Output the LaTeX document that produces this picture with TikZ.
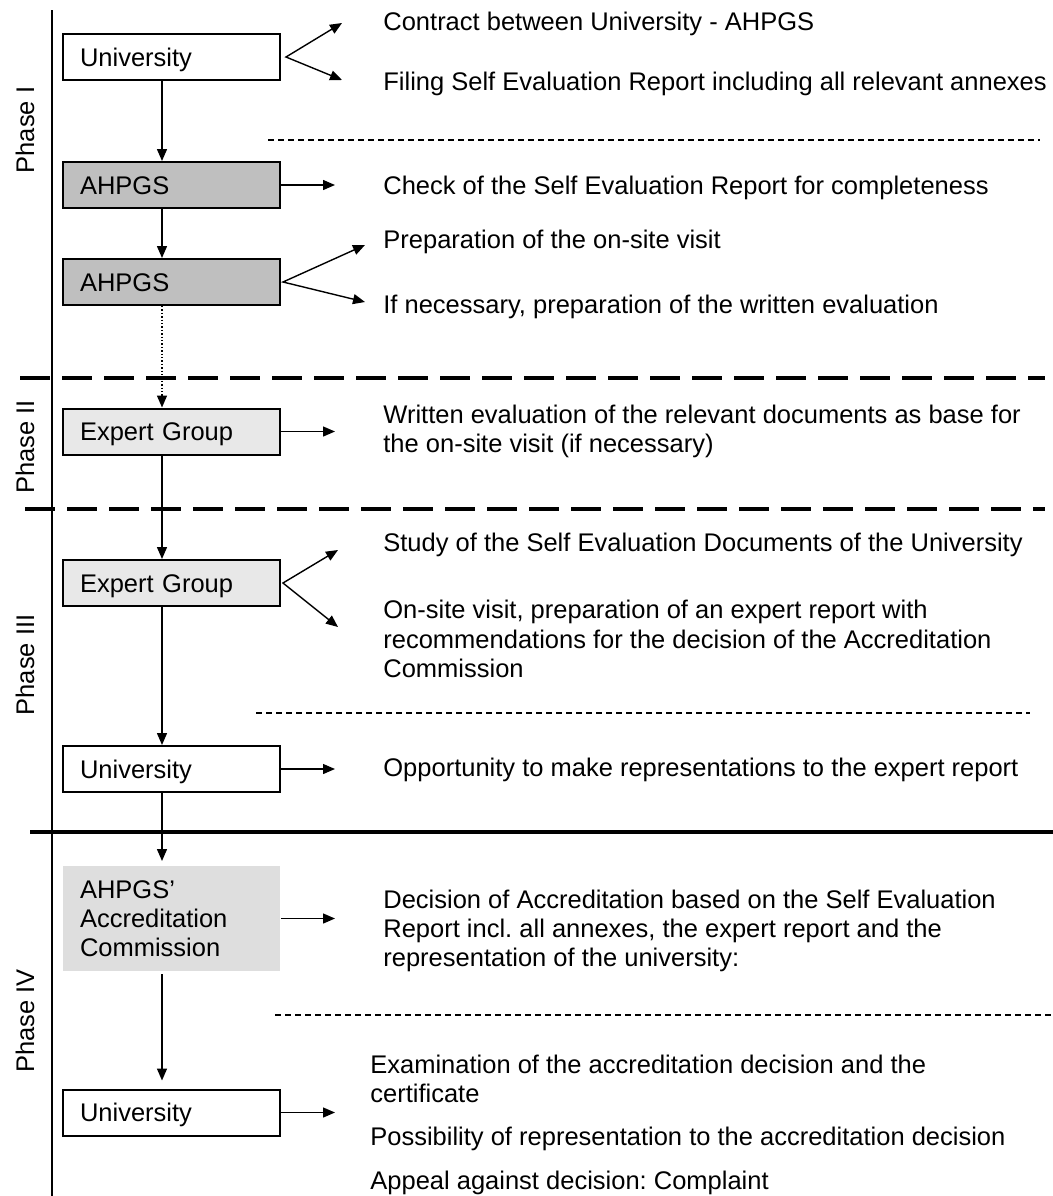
\documentclass[tikz,border=0pt]{standalone}
\usepackage{fontspec}
\setmainfont{Liberation Sans}
\usetikzlibrary{arrows.meta}
\frenchspacing
\begin{document}
\begin{tikzpicture}[
x=0.5pt, y=-0.5pt,
font=\fontsize{12.75pt}{14.6pt}\selectfont,
box/.style={rectangle, draw=black, line width=1pt, minimum width=108.5pt, minimum height=23pt, text width=91.5pt, inner xsep=8.5pt, inner ysep=0pt, align=left},
oneline/.style={box, text height=9.1pt, text depth=0pt},
university/.style={oneline, fill=white},
agency/.style={oneline, fill=black!25},
expert/.style={oneline, fill=black!9},
commission/.style={box, draw=none, fill=black!13, minimum height=52.5pt},
task/.style={anchor=west, inner sep=0pt, align=left, yshift=-1pt},
phase/.style={rotate=90, inner sep=0pt},
flow/.style={line width=0.7pt, -{Triangle[length=6pt, width=5pt]}},
fork/.style={line width=0.7pt, {Triangle[length=6pt, width=5pt]}-{Triangle[length=6pt, width=5pt]}},
sep/.style={line width=2pt, dash pattern=on 15pt off 6pt},
subsep/.style={line width=0.6pt, dash pattern=on 3pt off 2pt},
]
\useasboundingbox (0,0) rectangle (1053,1196);
\draw[line width=1pt] (52,10) -- (52,1196);
\draw[sep] (20,378) -- (1045,378);
\draw[sep] (25,509) -- (1045,509);
\draw[line width=1.6pt] (30,832) -- (1053,832);
\draw[subsep] (268,140) -- (1040,140);
\draw[subsep] (256,713) -- (1030,713);
\draw[subsep] (275,1015) -- (1053,1015);

\node[phase] (p1) at (25,130) {Phase I};
\node[phase] (p2) at (25,447) {Phase II};
\node[phase] (p3) at (25,665) {Phase III};
\node[phase] (p4) at (25,1021) {Phase IV};

\node[university] (uni1) at (171.5,57) {University};
\node[agency] (ahpgs1) at (171.5,185) {AHPGS};
\node[agency] (ahpgs2) at (171.5,282) {AHPGS};
\node[expert] (expert1) at (171.5,431.5) {Expert Group};
\node[expert] (expert2) at (171.5,583) {Expert Group};
\node[university] (uni2) at (171.5,769) {University};
\node[commission] (comm) at (171.5,918.5) {AHPGS’\\Accreditation\\Commission};
\node[university] (uni3) at (171.5,1112.5) {University};

\node[task] (t1) at (383,22) {Contract between University - AHPGS};
\node[task] (t2) at (383,82) {Filing Self Evaluation Report including all relevant annexes};
\node[task] (t3) at (383,186) {Check of the Self Evaluation Report for completeness};
\node[task] (t4) at (383,240) {Preparation of the on-site visit};
\node[task] (t5) at (383,305) {If necessary, preparation of the written evaluation};
\node[task] (t6) at (383,429) {Written evaluation of the relevant documents as base for\\the on-site visit (if necessary)};
\node[task] (t7) at (383,543) {Study of the Self Evaluation Documents of the University};
\node[task] (t8) at (383,637) {On-site visit, preparation of an expert report with\\recommendations for the decision of the Accreditation\\Commission};
\node[task] (t9) at (383,768) {Opportunity to make representations to the expert report};
\node[task] (t10) at (383,929) {Decision of Accreditation based on the Self Evaluation\\Report incl. all annexes, the expert report and the\\representation of the university:};
\node[task] (t11) at (370,1077) {Examination of the accreditation decision and the\\certificate};
\node[task] (t12) at (370,1137) {Possibility of representation to the accreditation decision};
\node[task] (t13) at (370,1181) {Appeal against decision: Complaint};

\coordinate (spine) at (162,0);
\coordinate (f1) at (342,23);
\coordinate (f2) at (342,80);
\coordinate (f3) at (365,245);
\coordinate (f4) at (365,302);
\coordinate (f5) at (338,550);
\coordinate (f6) at (338,627);

\draw[flow] (uni1.south -| spine) -- (ahpgs1.north -| spine);
\draw[flow] (ahpgs1.south -| spine) -- (ahpgs2.north -| spine);
\draw[flow, densely dotted] (ahpgs2.south -| spine) -- (expert1.north -| spine);
\draw[flow] (expert1.south -| spine) -- (expert2.north -| spine);
\draw[flow] (expert2.south -| spine) -- (uni2.north -| spine);
\draw[flow, shorten >=2pt] (uni2.south -| spine) -- (comm.north -| spine);
\draw[flow, shorten <=1pt, shorten >=4pt] (comm.south -| spine) -- (uni3.north -| spine);

\draw[fork] (f1) -- ([xshift=2.5pt]uni1.east) -- (f2);
\draw[fork] (f3) -- ([xshift=1pt]ahpgs2.east) -- (f4);
\draw[fork] (f5) -- ([xshift=1pt]expert2.east) -- (f6);
\draw[flow, shorten >=24pt] (ahpgs1.east) -- (ahpgs1.east -| t3.west);
\draw[flow, shorten >=24pt] (expert1.east) -- (expert1.east -| t6.west);
\draw[flow, shorten >=24pt] (uni2.east) -- (uni2.east -| t9.west);
\draw[flow, shorten >=24pt] (comm.east) -- (comm.east -| t10.west);
\draw[flow, shorten >=17.5pt] (uni3.east) -- (uni3.east -| t12.west);
\end{tikzpicture}
\end{document}
